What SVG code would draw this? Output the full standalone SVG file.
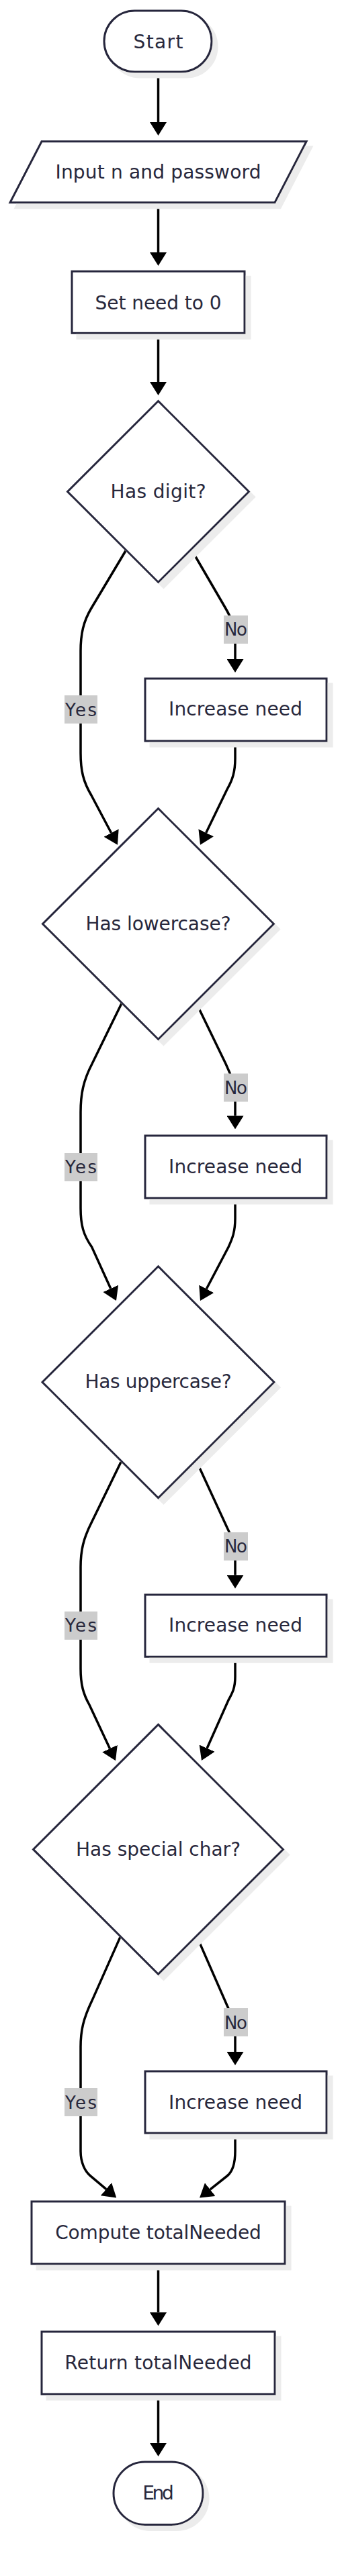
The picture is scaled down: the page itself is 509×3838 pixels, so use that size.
<svg xmlns="http://www.w3.org/2000/svg" width="509" height="3838" viewBox="0 0 509 3838">
<defs>
<marker id="ah" markerUnits="userSpaceOnUse" markerWidth="20" markerHeight="25" viewBox="0 0 20 25" refX="0" refY="12.5" orient="auto"><path d="M0,0 L20,12.5 L0,25 z" fill="#000"/></marker>
<filter id="sh" x="-10%" y="-10%" width="130%" height="130%"><feFlood flood-color="#ececec"/><feComposite in2="SourceAlpha" operator="in"/><feOffset dx="8" dy="8"/><feMerge><feMergeNode/><feMergeNode in="SourceGraphic"/></feMerge></filter>
</defs>
<style>
.n{fill:#fff;stroke:#28283c;stroke-width:3;filter:url(#sh)}
.t{font-family:"DejaVu Sans",sans-serif;font-size:28px;fill:#28283c;text-anchor:middle}
.l{font-family:"DejaVu Sans",sans-serif;font-size:26px;fill:#28283c;text-anchor:middle}
.e{fill:none;stroke:#000;stroke-width:3.5;marker-end:url(#ah)}
.lb{fill:#ccc}
</style>
<rect width="509" height="3838" fill="#fff"/>
<g id="connectors">
<path class="e" d="M235.5,107 L235.5,182"/>
<path class="e" d="M235.5,302 L235.5,376"/>
<path class="e" d="M235.5,496 L235.5,569"/>
<path class="e" d="M188,819 L136,906 C124,926 120,945 120,970 L120,1122 C120,1148 124,1165 136,1185 L165.6,1241"/>
<path class="e" d="M285,819 L335,905 C345,922 350,935 350,955 L350,982"/>
<path class="e" d="M350,1104 L350,1130 C350,1150 346,1162 338,1176 L306.7,1240.7"/>
<path class="e" d="M181.7,1493.4 L137,1585 C124,1610 120,1630 120,1657 L120,1800 C120,1825 124,1840 136.7,1858 L164.7,1919.8"/>
<path class="e" d="M291.7,1493.4 L336,1585 C345,1603 350,1620 350,1640 L350,1662.4"/>
<path class="e" d="M350,1785.2 L350,1815 C350,1835 346,1845 340,1858 L307.3,1920.3"/>
<path class="e" d="M180,2178.3 L137,2266.7 C124,2292 120,2310 120,2335 L120,2486 C120,2510 124,2524 133,2540 L163.5,2605.2"/>
<path class="e" d="M293,2178.3 L338,2276 C346,2292 350,2305 350,2325 L350,2346.7"/>
<path class="e" d="M350,2468.3 L350,2498 C350,2515 346,2522 340,2533 L308.1,2604.7"/>
<path class="e" d="M179,2885.9 L137,2980.6 C124,3008 120,3025 120,3050 L120,3205 C120,3222 126.4,3234.9 134,3241.3 L158,3261.6"/>
<path class="e" d="M293.3,2885.9 L338,2988 C346,3005 350,3015 350,3035 L350,3057"/>
<path class="e" d="M350,3178 L350,3205 C350,3222 345.9,3235.8 338,3242 L312.7,3262.1"/>
<path class="e" d="M235.5,3373 L235.5,3445.3"/>
<path class="e" d="M235.5,3567 L235.5,3639.8"/>
</g>
<g id="edge-labels">
<g id="lbl-no1"><rect class="lb" x="333" y="917" width="36" height="42"/><text class="l" x="351" y="947" textLength="34">No</text></g>
<g id="lbl-yes1"><rect class="lb" x="96" y="1036" width="49" height="42"/><text class="l" x="120.5" y="1066.5" textLength="47">Yes</text></g>
<g id="lbl-no2"><rect class="lb" x="333" y="1599.5" width="36" height="42"/><text class="l" x="351" y="1629.5" textLength="34">No</text></g>
<g id="lbl-yes2"><rect class="lb" x="96" y="1718" width="49" height="42"/><text class="l" x="120.5" y="1748" textLength="47">Yes</text></g>
<g id="lbl-no3"><rect class="lb" x="333" y="2283" width="36" height="42"/><text class="l" x="351" y="2313" textLength="34">No</text></g>
<g id="lbl-yes3"><rect class="lb" x="96" y="2401" width="49" height="42"/><text class="l" x="120.5" y="2431" textLength="47">Yes</text></g>
<g id="lbl-no4"><rect class="lb" x="333" y="2992" width="36" height="42"/><text class="l" x="351" y="3022.5" textLength="34">No</text></g>
<g id="lbl-yes4"><rect class="lb" x="96" y="3111" width="49" height="42"/><text class="l" x="120.5" y="3141.5" textLength="47">Yes</text></g>
</g>
<g id="start"><rect class="n" x="155" y="16" width="160" height="91" rx="45.5"/><text class="t" x="235.5" y="72" textLength="74">Start</text></g>
<g id="input"><polygon class="n" points="62,210.7 456,210.7 409,301.8 15,301.8"/><text class="t" x="235.5" y="266" textLength="306">Input n and password</text></g>
<g id="setneed"><rect class="n" x="107" y="404.3" width="257" height="92"/><text class="t" x="235.5" y="460.5" textLength="188">Set need to 0</text></g>
<g id="digit"><polygon class="n" points="235.5,597.5 370.5,732.5 235.5,867.5 100.5,732.5"/><text class="t" x="235.5" y="742" textLength="142">Has digit?</text></g>
<g id="inc1"><rect class="n" x="216" y="1011" width="270" height="93"/><text class="t" x="350.5" y="1066" textLength="199">Increase need</text></g>
<g id="lower"><polygon class="n" points="235.5,1204.5 407.5,1376.5 235.5,1548.5 63.5,1376.5"/><text class="t" x="235.5" y="1386" textLength="216">Has lowercase?</text></g>
<g id="inc2"><rect class="n" x="216" y="1692" width="270" height="93"/><text class="t" x="350.5" y="1748" textLength="199">Increase need</text></g>
<g id="upper"><polygon class="n" points="235.5,1886.8 408,2059.3 235.5,2231.8 63,2059.3"/><text class="t" x="235.5" y="2068" textLength="218">Has uppercase?</text></g>
<g id="inc3"><rect class="n" x="216" y="2376" width="270" height="92.3"/><text class="t" x="350.5" y="2431" textLength="199">Increase need</text></g>
<g id="special"><polygon class="n" points="235.5,2569.4 421.5,2755.4 235.5,2941.4 49.5,2755.4"/><text class="t" x="235.5" y="2765" textLength="245">Has special char?</text></g>
<g id="inc4"><rect class="n" x="216" y="3086" width="270" height="92"/><text class="t" x="350.5" y="3141.5" textLength="199">Increase need</text></g>
<g id="compute"><rect class="n" x="47" y="3280" width="377" height="93"/><text class="t" x="235.5" y="3335.5" textLength="306.7">Compute totalNeeded</text></g>
<g id="return"><rect class="n" x="62" y="3474" width="347" height="93"/><text class="t" x="235.5" y="3529.5" textLength="278.3">Return totalNeeded</text></g>
<g id="end"><rect class="n" x="169" y="3668" width="133" height="93.5" rx="46.75"/><text class="t" x="235.5" y="3724" textLength="46.7">End</text></g>
</svg>
